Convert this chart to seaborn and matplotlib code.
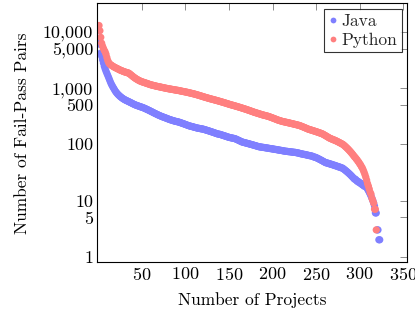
import matplotlib
matplotlib.use("Agg")
import matplotlib.pyplot as plt
import seaborn as sns
import pandas as pd
from matplotlib.ticker import FixedLocator, FixedFormatter, NullLocator

# ---- data ----
java_pairs = [
    7700, 6000, 4200, 3700, 3200, 2800, 2450, 2200, 2000, 1830,
    1680, 1540, 1410, 1290, 1190, 1110, 1040, 980, 920, 870,
    830, 795, 765, 740, 715, 695, 675, 658, 642, 628,
    616, 605, 595, 585, 575, 565, 555, 545, 535, 525,
    516, 508, 500, 493, 487, 481, 475, 469, 463, 457,
    453, 446, 439, 432, 425, 418, 411, 404, 397, 390,
    383, 376, 369, 362, 356, 350, 344, 338, 332, 327,
    322, 317, 312, 308, 304, 300, 296, 292, 288, 284,
    280, 276, 273, 270, 267, 264, 261, 258, 256, 254,
    252, 250, 247, 244, 241, 238, 235, 232, 229, 226,
    223, 220, 217, 214, 212, 210, 208, 206, 204, 202,
    200, 198, 196, 194, 193, 192, 190, 189, 188, 187,
    185, 183, 181, 179, 177, 175, 173, 171, 169, 167,
    165, 163, 161, 159, 157, 155, 153, 152, 151, 150,
    148, 146, 145, 143, 141, 140, 138, 136, 135, 133,
    132, 131, 130, 129, 128, 127, 126, 124, 122, 120,
    118, 116, 114, 112, 110, 109, 108, 107, 106, 105,
    104, 103, 102, 101, 100, 99, 98, 97, 96, 95,
    94, 93, 92, 91, 90, 90, 89, 89, 88, 88,
    87, 87, 86, 86, 85, 85, 84, 84, 83, 83,
    82, 82, 81, 81, 80, 80, 79, 79, 78, 78,
    77, 77, 76, 76, 75, 75, 75, 74, 74, 74,
    73, 73, 73, 72, 72, 72, 71, 71, 70, 70,
    69, 68, 68, 67, 67, 66, 66, 65, 65, 64,
    64, 63, 63, 62, 62, 61, 60, 59, 59, 58,
    57, 56, 55, 54, 53, 52, 51, 50, 49, 48,
    47, 47, 46, 46, 45, 45, 44, 44, 43, 43,
    42, 42, 41, 41, 40, 40, 39, 39, 38, 38,
    37, 36, 35, 34, 33, 32, 31, 30, 29, 28,
    27, 26, 25, 24, 24, 23, 22, 22, 21, 21,
    20, 20, 19, 19, 18, 18, 18, 17, 16, 15,
    14, 13, 12, 11, 10, 9, 8, 6, 6,
    3, 3, 2, 2,
]

python_pairs = [
    13000, 10500, 8000, 6300, 5600, 5100, 4700, 4400, 4000, 3500,
    3100, 2850, 2700, 2620, 2560, 2500, 2440, 2390, 2340, 2300,
    2260, 2220, 2180, 2140, 2100, 2070, 2040, 2010, 1980, 1950,
    1930, 1910, 1890, 1870, 1850, 1800, 1750, 1700, 1650, 1600,
    1560, 1520, 1480, 1450, 1420, 1390, 1360, 1340, 1320, 1300,
    1285, 1270, 1255, 1240, 1225, 1210, 1195, 1180, 1165, 1150,
    1140, 1130, 1120, 1110, 1100, 1090, 1080, 1072, 1064, 1056,
    1048, 1040, 1032, 1024, 1016, 1008, 1000, 993, 986, 979,
    972, 966, 960, 954, 948, 942, 936, 930, 924, 918,
    915, 908, 901, 894, 887, 880, 874, 868, 862, 856,
    850, 843, 836, 829, 822, 815, 808, 801, 794, 787,
    780, 772, 764, 756, 748, 740, 732, 724, 716, 708,
    700, 692, 685, 678, 671, 664, 657, 650, 644, 638,
    632, 626, 620, 614, 608, 602, 596, 590, 584, 578,
    572, 566, 560, 554, 548, 542, 536, 530, 524, 518,
    512, 507, 502, 497, 492, 487, 482, 477, 472, 467,
    462, 457, 452, 447, 442, 437, 432, 427, 422, 417,
    412, 407, 402, 397, 392, 387, 382, 377, 372, 368,
    364, 360, 356, 352, 348, 344, 340, 336, 333, 330,
    327, 324, 321, 318, 315, 311, 307, 303, 299, 295,
    291, 287, 283, 279, 275, 271, 268, 265, 262, 259,
    256, 254, 252, 250, 248, 246, 244, 242, 240, 238,
    236, 234, 232, 230, 228, 226, 224, 222, 220, 218,
    216, 213, 210, 207, 204, 201, 198, 195, 192, 189,
    186, 184, 182, 180, 178, 176, 174, 172, 170, 168,
    166, 164, 162, 160, 158, 156, 154, 151, 148, 145,
    142, 139, 136, 133, 130, 128, 126, 124, 122, 120,
    119, 117, 115, 113, 111, 109, 107, 105, 103, 101,
    99, 96, 93, 90, 87, 84, 81, 78, 75, 72,
    69, 66, 63, 60, 58, 55, 53, 50, 48, 45,
    43, 40, 38, 35, 32, 29, 26, 23, 20, 18,
    16, 14, 13, 11, 10, 9, 7, 7, 3,
]

languages = ["Java", "Python"]
colors = {"Java": "#7F7FFF", "Python": "#FF7F7F"}

x_ticks = [50, 100, 150, 200, 250, 300, 350]
y_ticks = [1, 5, 10, 100, 500, 1000, 5000, 10000]
y_tick_labels = ["1", "5", "10", "100", "500", "1,000", "5,000", "10,000"]

# ---- build table ----
frames = []
for lang, vals in zip(languages, [java_pairs, python_pairs]):
    frames.append(pd.DataFrame({
        "rank": range(1, len(vals) + 1),
        "pairs": vals,
        "lang": lang,
    }))
df = pd.concat(frames, ignore_index=True)

# ---- style ----
sns.set_theme(style="white")
plt.rcParams['font.family'] = ['cmr10', 'DejaVu Serif']
plt.rcParams['axes.formatter.use_mathtext'] = True
plt.rcParams['axes.unicode_minus'] = False

fig = plt.figure(figsize=(4.15, 3.14), dpi=100)
ax = fig.add_axes([97.3 / 415, 1 - 262.3 / 314, (406.5 - 97.3) / 415, (262.3 - 3.3) / 314])

sns.scatterplot(data=df, x="rank", y="pairs", hue="lang", hue_order=languages,
                palette=colors, s=27, linewidth=0, alpha=1.0, ax=ax)

ax.set_yscale("log")
ax.set_xlim(-1, 353.7)
ax.set_ylim(0.795, 32300)

ax.xaxis.set_major_locator(FixedLocator(x_ticks))
ax.yaxis.set_major_locator(FixedLocator(y_ticks))
ax.yaxis.set_major_formatter(FixedFormatter(y_tick_labels))
ax.yaxis.set_minor_locator(NullLocator())
ax.xaxis.set_minor_locator(NullLocator())

ax.tick_params(axis="both", which="major", direction="in", length=4.8, width=0.7,
               color="0.55", labelsize=13, labelcolor="black",
               top=True, right=True, pad=3)

for sp in ax.spines.values():
    sp.set_color("black")
    sp.set_linewidth(0.8)

ax.set_xlabel("Number of Projects", fontsize=12.5, labelpad=6, color="black")
ax.set_ylabel("Number of Fail-Pass Pairs", fontsize=12.5, labelpad=9, color="black")

handles, labels = ax.get_legend_handles_labels()
leg = ax.legend(handles, labels, loc="upper right", bbox_to_anchor=(0.9845, 0.9768),
                borderaxespad=0, fontsize=12.5, frameon=True, fancybox=False,
                handlelength=0.5, handletextpad=0.25, borderpad=0.25,
                labelspacing=0.2, markerscale=0.8)
leg.get_frame().set_edgecolor("black")
leg.get_frame().set_linewidth(0.8)

fig.savefig("out.png", dpi=100)
